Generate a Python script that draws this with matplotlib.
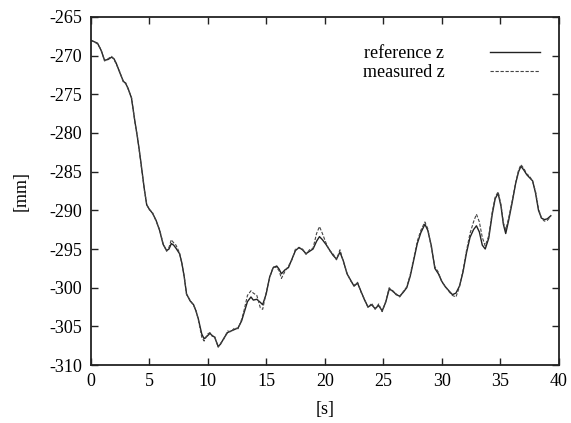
import matplotlib
matplotlib.use("Agg")
import matplotlib.pyplot as plt

plt.rcParams["font.family"] = ["Liberation Serif", "DejaVu Serif"]
plt.rcParams["axes.unicode_minus"] = False

# time [s]
t = [0.0, 0.3, 0.6, 0.9, 1.2, 1.5, 1.8, 2.0, 2.2, 2.5, 2.8, 3.0, 3.2, 3.5, 3.8,
     4.0, 4.2, 4.4, 4.6, 4.8, 5.0, 5.3, 5.6, 5.9, 6.2, 6.5, 6.7, 6.9, 7.1, 7.3,
     7.6, 7.8, 8.0, 8.2, 8.5, 8.8, 9.0, 9.2, 9.5, 9.7, 10.0, 10.2, 10.4, 10.6,
     10.9, 11.1, 11.4, 11.7, 12.0, 12.3, 12.6, 12.9, 13.1, 13.4, 13.7, 13.9,
     14.2, 14.5, 14.7, 15.0, 15.3, 15.6, 15.9, 16.1, 16.3, 16.6, 16.9, 17.2,
     17.5, 17.8, 18.1, 18.4, 18.7, 19.0, 19.3, 19.55, 19.8, 20.1, 20.4, 20.7,
     21.0, 21.3, 21.6, 21.9, 22.2, 22.5, 22.8, 23.1, 23.4, 23.7, 24.0, 24.3,
     24.6, 24.9, 25.2, 25.5, 25.8, 26.1, 26.4, 26.7, 27.0, 27.3, 27.6, 27.9,
     28.2, 28.55, 28.8, 29.1, 29.4, 29.7, 30.0, 30.3, 30.6, 30.9, 31.2, 31.5,
     31.8, 32.1, 32.4, 32.7, 32.95, 33.2, 33.45, 33.7, 34.0, 34.3, 34.55, 34.8,
     35.05, 35.25, 35.45, 35.7, 36.0, 36.3, 36.55, 36.75, 37.0, 37.25, 37.5,
     37.75, 38.0, 38.25, 38.5, 38.75, 39.0, 39.3]

# reference z [mm]
ref_z = [-268.0, -268.2, -268.4, -269.3, -270.6, -270.5, -270.2, -270.4, -271.0,
         -272.2, -273.3, -273.6, -274.2, -275.5, -278.6, -280.5, -282.6, -285.0,
         -287.3, -289.3, -289.8, -290.4, -291.3, -292.6, -294.4, -295.2, -295.0,
         -294.3, -294.5, -294.9, -295.6, -296.8, -298.6, -300.8, -301.7, -302.2,
         -303.0, -304.0, -306.0, -306.6, -306.2, -305.9, -306.2, -306.4, -307.6,
         -307.3, -306.5, -305.8, -305.6, -305.4, -305.2, -304.3, -303.3, -301.8,
         -301.2, -301.6, -301.5, -301.9, -302.2, -300.8, -298.6, -297.4, -297.2,
         -297.6, -298.2, -297.7, -297.4, -296.3, -295.2, -294.8, -295.1, -295.6,
         -295.3, -295.0, -294.0, -293.4, -293.8, -294.4, -295.1, -295.8, -296.3,
         -295.4, -296.6, -298.2, -299.0, -299.8, -299.4, -300.5, -301.6, -302.5,
         -302.2, -302.7, -302.3, -303.0, -301.9, -300.2, -300.4, -300.9, -301.1,
         -300.6, -300.0, -298.5, -296.4, -294.3, -292.9, -291.8, -292.6, -294.6,
         -297.5, -298.2, -299.2, -299.9, -300.4, -300.9, -300.7, -299.8, -298.0,
         -295.5, -293.5, -292.5, -292.0, -292.8, -294.5, -295.0, -293.6, -290.5,
         -288.5, -287.8, -289.5, -291.8, -293.0, -291.3, -289.0, -286.5, -285.0,
         -284.3, -284.8, -285.4, -285.8, -286.2, -287.8, -290.0, -291.0, -291.2,
         -291.1, -290.7]

# measured z [mm]
meas_z = [-268.0, -268.2, -268.5, -269.2, -270.7, -270.4, -270.1, -270.5, -271.1,
          -272.1, -273.4, -273.5, -274.3, -275.4, -278.7, -280.4, -282.7, -284.9,
          -287.4, -289.2, -289.9, -290.3, -291.4, -292.5, -294.3, -295.3, -294.8,
          -293.8, -294.2, -294.5, -295.5, -296.9, -298.5, -300.9, -301.6, -302.3,
          -302.9, -304.1, -306.4, -306.9, -306.0, -305.8, -306.3, -306.3, -307.7,
          -307.2, -306.6, -305.6, -305.7, -305.2, -305.3, -304.1, -303.0, -301.0,
          -300.4, -300.7, -301.0, -302.6, -302.8, -300.6, -298.7, -297.3, -297.4,
          -297.8, -298.8, -297.9, -297.2, -296.4, -295.0, -294.9, -295.0, -295.7,
          -295.1, -294.9, -293.0, -292.1, -293.0, -294.2, -295.2, -295.6, -296.4,
          -295.1, -296.7, -298.1, -299.1, -299.7, -299.3, -300.6, -301.5, -302.6,
          -302.0, -302.8, -302.1, -303.1, -301.8, -300.0, -300.5, -300.8, -301.2,
          -300.5, -299.9, -298.3, -296.2, -294.0, -292.6, -291.5, -292.4, -294.8,
          -297.3, -298.0, -299.3, -299.8, -300.5, -301.0, -301.2, -299.9, -297.8,
          -295.2, -293.0, -291.5, -290.5, -291.5, -293.5, -294.6, -293.3, -290.2,
          -288.3, -287.6, -289.3, -291.6, -292.5, -291.0, -288.8, -286.4, -284.8,
          -284.1, -284.6, -285.3, -285.6, -286.3, -287.6, -289.8, -291.0, -291.4,
          -291.3, -290.8]

x_ticks = [0, 5, 10, 15, 20, 25, 30, 35, 40]
y_ticks = [-310, -305, -300, -295, -290, -285, -280, -275, -270, -265]

fig = plt.figure(figsize=(5.71, 4.23), dpi=100)
ax = fig.add_axes([0.1585, 0.137, 0.8205, 0.823])

ax.plot(t, ref_z, color="#222222", lw=1.0, label="reference z")
ax.plot(t, meas_z, color="#444444", lw=0.8, linestyle=(0, (3, 1.5)),
        label="measured z")

ax.set_xlim(0, 40)
ax.set_ylim(-310, -265)
ax.set_xticks(x_ticks)
ax.set_yticks(y_ticks)
ax.tick_params(direction="in", length=5, width=1, top=True, right=True,
               labelsize=13, pad=6, color="#222222")
for sp in ax.spines.values():
    sp.set_linewidth(1.3)
    sp.set_color("#222222")

ax.set_xlabel("[s]", fontsize=13, labelpad=8)
ax.set_ylabel("[mm]", fontsize=13, labelpad=14)

ax.legend(loc="upper right", bbox_to_anchor=(0.975, 0.94), frameon=False,
          markerfirst=False, handlelength=2.8, fontsize=13, labelspacing=0.1,
          handletextpad=2.5, borderaxespad=0)

fig.savefig("out.png", dpi=100)
